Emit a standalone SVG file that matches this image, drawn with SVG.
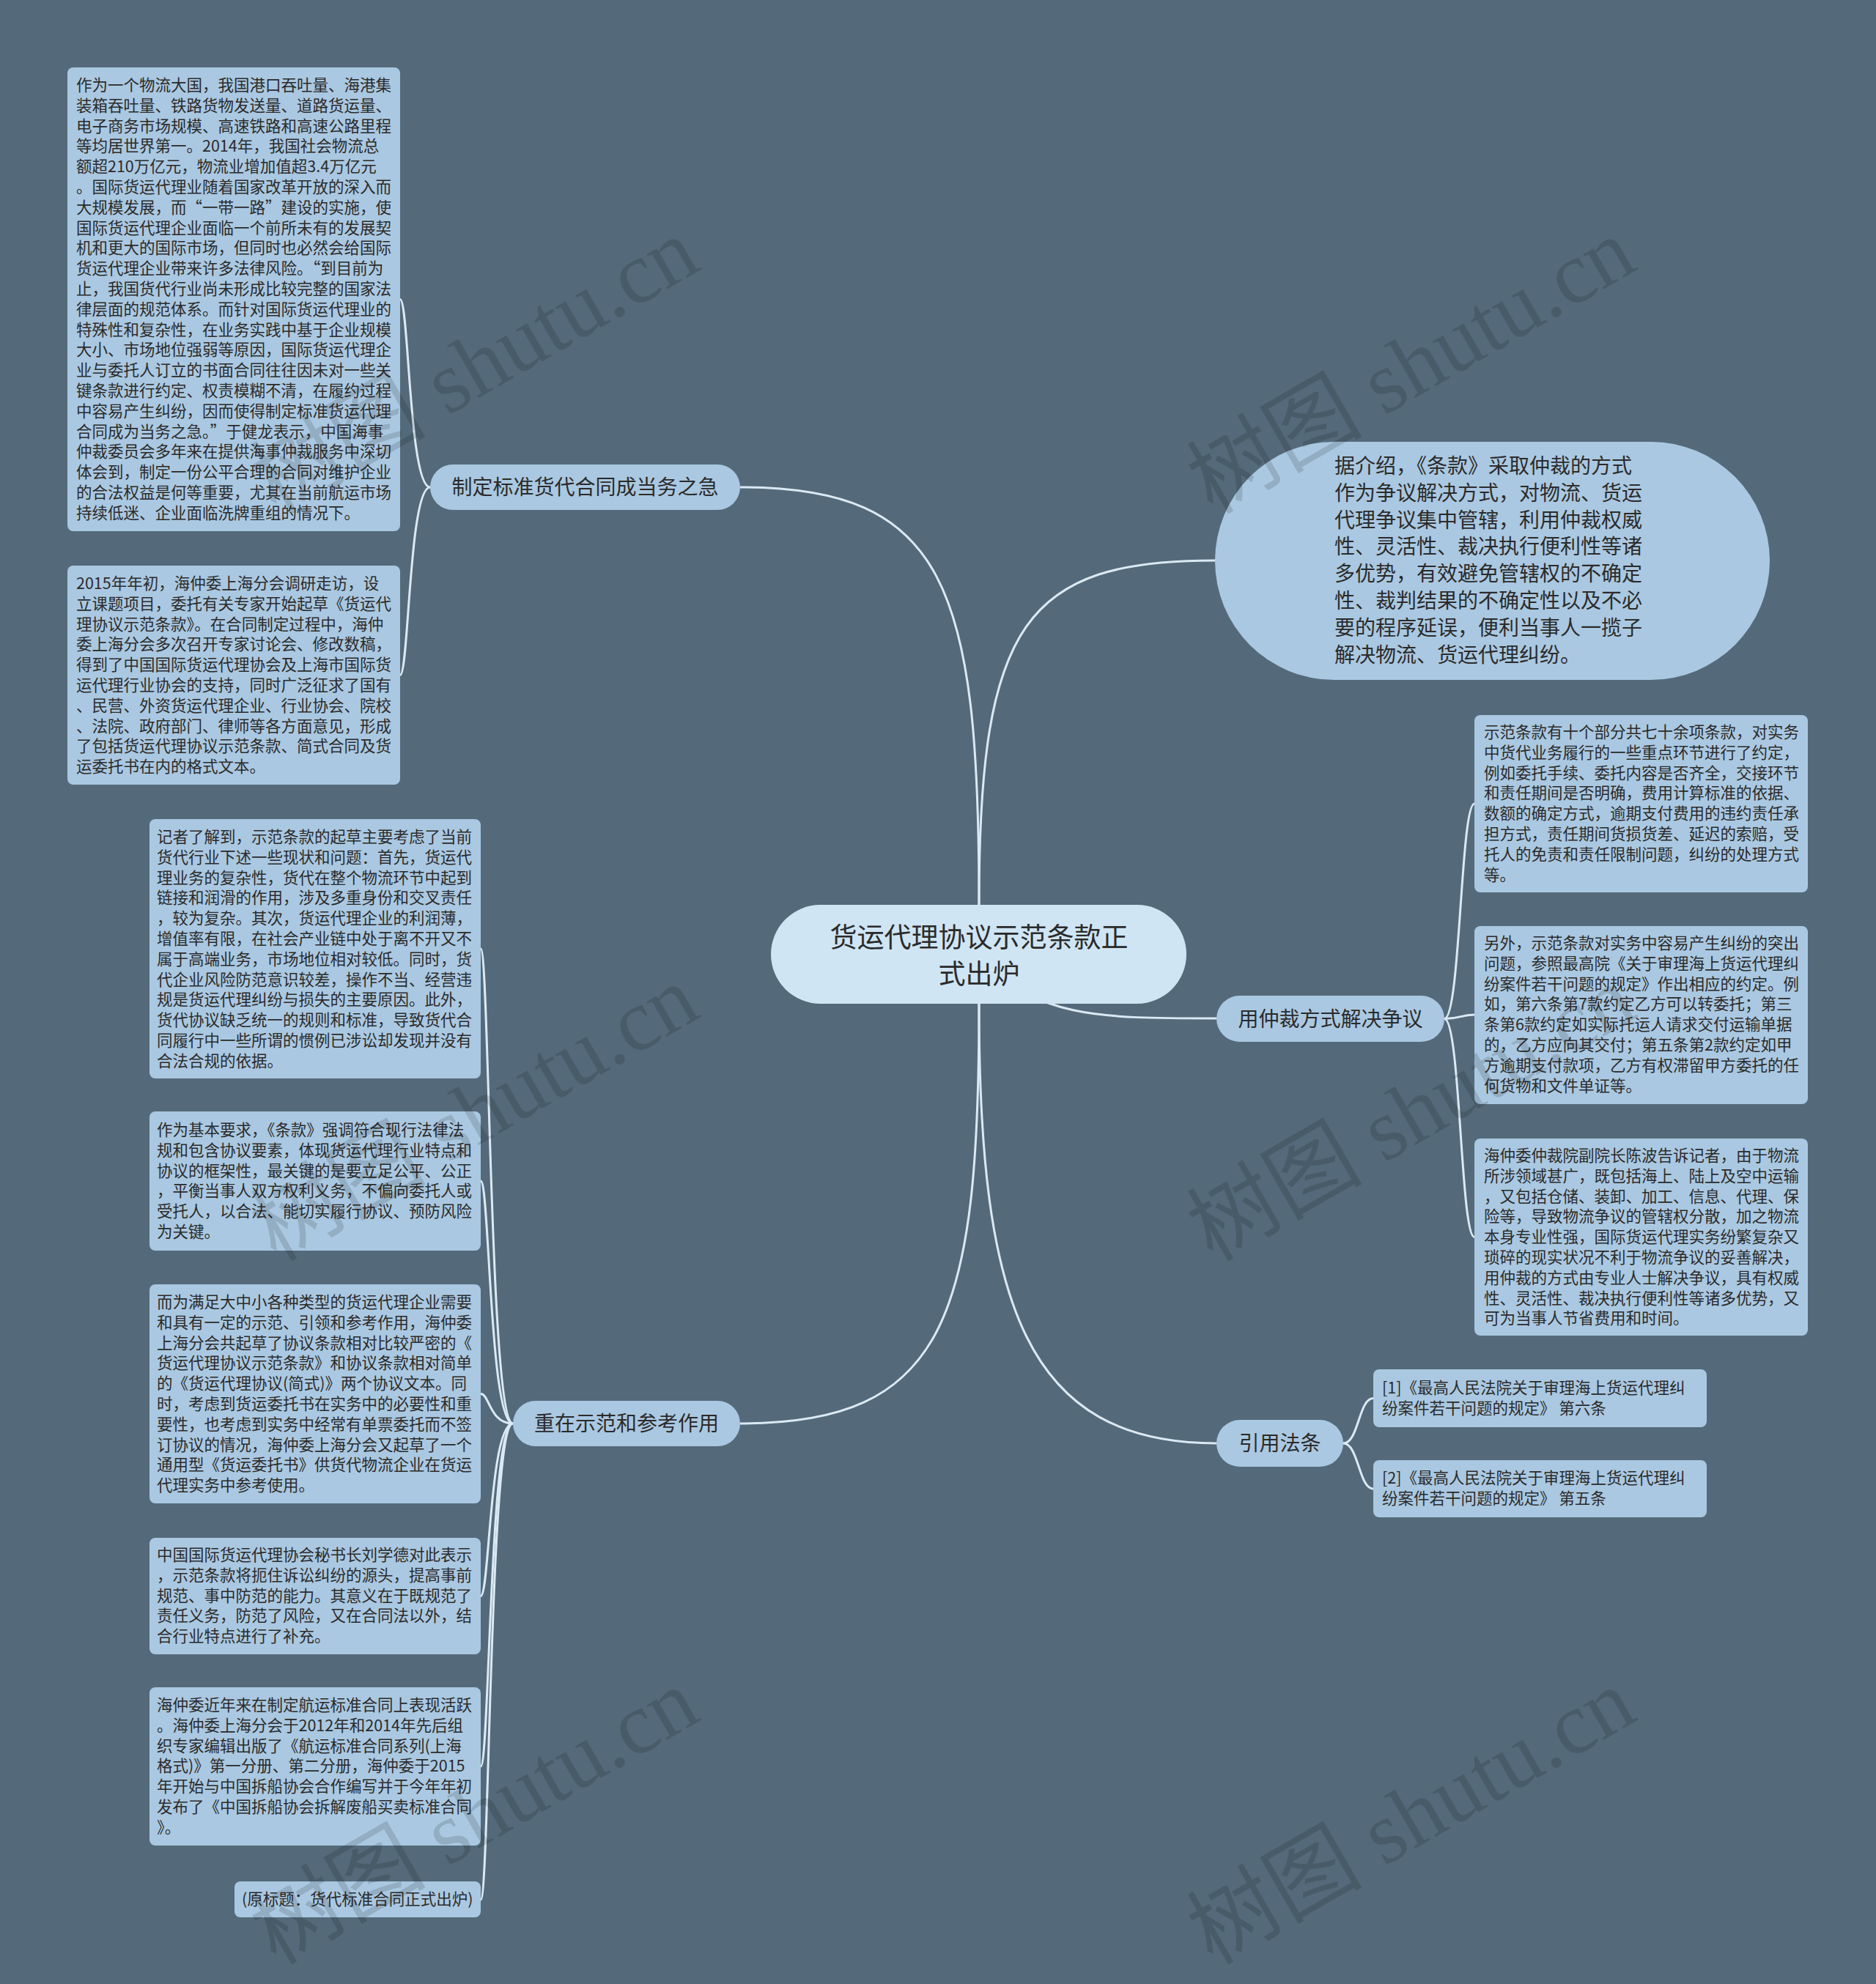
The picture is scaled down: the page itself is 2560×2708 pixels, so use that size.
<svg xmlns="http://www.w3.org/2000/svg" width="2560" height="2708" viewBox="0 0 2560 2708">
<style>
.box{fill:#aac8e1}
.t{font-family:"Noto Sans CJK SC","Liberation Sans",sans-serif;font-size:21.5px;fill:#2b2b2b}
.bt{font-family:"Noto Sans CJK SC","Liberation Sans",sans-serif;font-size:28px;fill:#2b2b2b;text-anchor:middle}
.ct{font-family:"Noto Sans CJK SC","Liberation Sans",sans-serif;font-size:37px;fill:#2b2b2b;text-anchor:middle}
.bub{font-family:"Noto Sans CJK SC","Liberation Sans",sans-serif;font-size:28px;fill:#2b2b2b}
.link{fill:none;stroke:#dbe9f4;stroke-width:3}
.wm{font-family:"Liberation Serif","Noto Sans CJK SC",serif;font-size:120px;fill:#000;opacity:0.13;text-anchor:middle}
</style>
<rect x="0" y="0" width="2560" height="2708" fill="#546a7a"/>

<g id="connectors">
<path class="link" d="M1336,1235 C1336,800 1290,665 1010,665"/>
<path class="link" d="M1336,1235 C1336,850 1400,765 1658,765"/>
<path class="link" d="M1336,1302 C1410,1390 1500,1390 1660,1390"/>
<path class="link" d="M1336,1370 C1336,1800 1290,1943 1010,1943"/>
<path class="link" d="M1336,1370 C1336,1780 1400,1970 1660,1970"/>
<path class="link" d="M587,665 C558,665 558,408.5 546,408.5"/>
<path class="link" d="M587,665 C558,665 558,921.5 546,921.5"/>
<path class="link" d="M700,1943 C668,1943 668,1295 656,1295"/>
<path class="link" d="M700,1943 C668,1943 668,1612 656,1612"/>
<path class="link" d="M700,1943 C668,1943 668,1902.5 656,1902.5"/>
<path class="link" d="M700,1943 C668,1943 668,2178.5 656,2178.5"/>
<path class="link" d="M700,1943 C668,1943 668,2411 656,2411"/>
<path class="link" d="M700,1943 C668,1943 668,2593 656,2593"/>
<path class="link" d="M1971,1390.5 C1993,1390.5 1993,1097 2012,1097"/>
<path class="link" d="M1971,1390.5 C1993,1390.5 1993,1385 2012,1385"/>
<path class="link" d="M1971,1390.5 C1993,1390.5 1993,1688.5 2012,1688.5"/>
<path class="link" d="M1833,1970 C1854,1970 1854,1908.5 1874,1908.5"/>
<path class="link" d="M1833,1970 C1854,1970 1854,2032 1874,2032"/>
</g>

<g id="center">
<rect x="1052" y="1235" width="567" height="135" rx="67.5" fill="#cfe5f4"/>
<text class="ct" x="1336" y="1293">货运代理协议示范条款正<tspan x="1336" dy="50">式出炉</tspan></text>
</g>

<g id="b1">
<rect class="box" x="587" y="634" width="423" height="62" rx="31"/>
<text class="bt" x="798.5" y="675">制定标准货代合同成当务之急</text>
</g>
<g id="b2">
<rect class="box" x="700" y="1912" width="310" height="62" rx="31"/>
<text class="bt" x="855" y="1953">重在示范和参考作用</text>
</g>
<g id="b3">
<rect class="box" x="1660" y="1359" width="311" height="63" rx="31.5"/>
<text class="bt" x="1815.5" y="1400.5">用仲裁方式解决争议</text>
</g>
<g id="b4">
<rect class="box" x="1660" y="1938" width="173" height="64" rx="32"/>
<text class="bt" x="1746.5" y="1980">引用法条</text>
</g>

<g id="bubble">
<rect class="box" x="1658" y="603" width="757" height="325" rx="162.5"/>
<text class="bub" x="1821" y="646">据介绍，《条款》采取仲裁的方式<tspan x="1821" dy="36.8">作为争议解决方式，对物流、货运</tspan><tspan x="1821" dy="36.8">代理争议集中管辖，利用仲裁权威</tspan><tspan x="1821" dy="36.8">性、灵活性、裁决执行便利性等诸</tspan><tspan x="1821" dy="36.8">多优势，有效避免管辖权的不确定</tspan><tspan x="1821" dy="36.8">性、裁判结果的不确定性以及不必</tspan><tspan x="1821" dy="36.8">要的程序延误，便利当事人一揽子</tspan><tspan x="1821" dy="36.8">解决物流、货运代理纠纷。</tspan></text>
</g>

<g id="box1">
<rect class="box" x="92" y="92" width="454" height="633" rx="8"/>
<text class="t" x="104" y="124">作为一个物流大国，我国港口吞吐量、海港集<tspan x="104" dy="27.8">装箱吞吐量、铁路货物发送量、道路货运量、</tspan><tspan x="104" dy="27.8">电子商务市场规模、高速铁路和高速公路里程</tspan><tspan x="104" dy="27.8">等均居世界第一。2014年，我国社会物流总</tspan><tspan x="104" dy="27.8">额超210万亿元，物流业增加值超3.4万亿元</tspan><tspan x="104" dy="27.8">。国际货运代理业随着国家改革开放的深入而</tspan><tspan x="104" dy="27.8">大规模发展，而“一带一路”建设的实施，使</tspan><tspan x="104" dy="27.8">国际货运代理企业面临一个前所未有的发展契</tspan><tspan x="104" dy="27.8">机和更大的国际市场，但同时也必然会给国际</tspan><tspan x="104" dy="27.8">货运代理企业带来许多法律风险。“到目前为</tspan><tspan x="104" dy="27.8">止，我国货代行业尚未形成比较完整的国家法</tspan><tspan x="104" dy="27.8">律层面的规范体系。而针对国际货运代理业的</tspan><tspan x="104" dy="27.8">特殊性和复杂性，在业务实践中基于企业规模</tspan><tspan x="104" dy="27.8">大小、市场地位强弱等原因，国际货运代理企</tspan><tspan x="104" dy="27.8">业与委托人订立的书面合同往往因未对一些关</tspan><tspan x="104" dy="27.8">键条款进行约定、权责模糊不清，在履约过程</tspan><tspan x="104" dy="27.8">中容易产生纠纷，因而使得制定标准货运代理</tspan><tspan x="104" dy="27.8">合同成为当务之急。”于健龙表示，中国海事</tspan><tspan x="104" dy="27.8">仲裁委员会多年来在提供海事仲裁服务中深切</tspan><tspan x="104" dy="27.8">体会到，制定一份公平合理的合同对维护企业</tspan><tspan x="104" dy="27.8">的合法权益是何等重要，尤其在当前航运市场</tspan><tspan x="104" dy="27.8">持续低迷、企业面临洗牌重组的情况下。</tspan></text>
</g>

<g id="box2">
<rect class="box" x="92" y="772" width="454" height="299" rx="8"/>
<text class="t" x="104" y="804">2015年年初，海仲委上海分会调研走访，设<tspan x="104" dy="27.8">立课题项目，委托有关专家开始起草《货运代</tspan><tspan x="104" dy="27.8">理协议示范条款》。在合同制定过程中，海仲</tspan><tspan x="104" dy="27.8">委上海分会多次召开专家讨论会、修改数稿，</tspan><tspan x="104" dy="27.8">得到了中国国际货运代理协会及上海市国际货</tspan><tspan x="104" dy="27.8">运代理行业协会的支持，同时广泛征求了国有</tspan><tspan x="104" dy="27.8">、民营、外资货运代理企业、行业协会、院校</tspan><tspan x="104" dy="27.8">、法院、政府部门、律师等各方面意见，形成</tspan><tspan x="104" dy="27.8">了包括货运代理协议示范条款、简式合同及货</tspan><tspan x="104" dy="27.8">运委托书在内的格式文本。</tspan></text>
</g>

<g id="box3">
<rect class="box" x="204" y="1118" width="452" height="354" rx="8"/>
<text class="t" x="214" y="1150">记者了解到，示范条款的起草主要考虑了当前<tspan x="214" dy="27.8">货代行业下述一些现状和问题：首先，货运代</tspan><tspan x="214" dy="27.8">理业务的复杂性，货代在整个物流环节中起到</tspan><tspan x="214" dy="27.8">链接和润滑的作用，涉及多重身份和交叉责任</tspan><tspan x="214" dy="27.8">，较为复杂。其次，货运代理企业的利润薄，</tspan><tspan x="214" dy="27.8">增值率有限，在社会产业链中处于离不开又不</tspan><tspan x="214" dy="27.8">属于高端业务，市场地位相对较低。同时，货</tspan><tspan x="214" dy="27.8">代企业风险防范意识较差，操作不当、经营违</tspan><tspan x="214" dy="27.8">规是货运代理纠纷与损失的主要原因。此外，</tspan><tspan x="214" dy="27.8">货代协议缺乏统一的规则和标准，导致货代合</tspan><tspan x="214" dy="27.8">同履行中一些所谓的惯例已涉讼却发现并没有</tspan><tspan x="214" dy="27.8">合法合规的依据。</tspan></text>
</g>

<g id="box4">
<rect class="box" x="204" y="1517" width="452" height="190" rx="8"/>
<text class="t" x="214" y="1550">作为基本要求，《条款》强调符合现行法律法<tspan x="214" dy="27.8">规和包含协议要素，体现货运代理行业特点和</tspan><tspan x="214" dy="27.8">协议的框架性，最关键的是要立足公平、公正</tspan><tspan x="214" dy="27.8">，平衡当事人双方权利义务，不偏向委托人或</tspan><tspan x="214" dy="27.8">受托人，以合法、能切实履行协议、预防风险</tspan><tspan x="214" dy="27.8">为关键。</tspan></text>
</g>

<g id="box5">
<rect class="box" x="204" y="1753" width="452" height="299" rx="8"/>
<text class="t" x="214" y="1785">而为满足大中小各种类型的货运代理企业需要<tspan x="214" dy="27.8">和具有一定的示范、引领和参考作用，海仲委</tspan><tspan x="214" dy="27.8">上海分会共起草了协议条款相对比较严密的《</tspan><tspan x="214" dy="27.8">货运代理协议示范条款》和协议条款相对简单</tspan><tspan x="214" dy="27.8">的《货运代理协议(简式)》两个协议文本。同</tspan><tspan x="214" dy="27.8">时，考虑到货运委托书在实务中的必要性和重</tspan><tspan x="214" dy="27.8">要性，也考虑到实务中经常有单票委托而不签</tspan><tspan x="214" dy="27.8">订协议的情况，海仲委上海分会又起草了一个</tspan><tspan x="214" dy="27.8">通用型《货运委托书》供货代物流企业在货运</tspan><tspan x="214" dy="27.8">代理实务中参考使用。</tspan></text>
</g>

<g id="box6">
<rect class="box" x="204" y="2099" width="452" height="159" rx="8"/>
<text class="t" x="214" y="2130">中国国际货运代理协会秘书长刘学德对此表示<tspan x="214" dy="27.8">，示范条款将扼住诉讼纠纷的源头，提高事前</tspan><tspan x="214" dy="27.8">规范、事中防范的能力。其意义在于既规范了</tspan><tspan x="214" dy="27.8">责任义务，防范了风险，又在合同法以外，结</tspan><tspan x="214" dy="27.8">合行业特点进行了补充。</tspan></text>
</g>

<g id="box7">
<rect class="box" x="204" y="2303" width="452" height="216" rx="8"/>
<text class="t" x="214" y="2335">海仲委近年来在制定航运标准合同上表现活跃<tspan x="214" dy="27.8">。海仲委上海分会于2012年和2014年先后组</tspan><tspan x="214" dy="27.8">织专家编辑出版了《航运标准合同系列(上海</tspan><tspan x="214" dy="27.8">格式)》第一分册、第二分册，海仲委于2015</tspan><tspan x="214" dy="27.8">年开始与中国拆船协会合作编写并于今年年初</tspan><tspan x="214" dy="27.8">发布了《中国拆船协会拆解废船买卖标准合同</tspan><tspan x="214" dy="27.8">》。</tspan></text>
</g>

<g id="box8">
<rect class="box" x="320" y="2568" width="336" height="49" rx="8"/>
<text class="t" x="330" y="2600">(原标题：货代标准合同正式出炉)</text>
</g>

<g id="r1">
<rect class="box" x="2012" y="976" width="455" height="242" rx="8"/>
<text class="t" x="2025" y="1007">示范条款有十个部分共七十余项条款，对实务<tspan x="2025" dy="27.8">中货代业务履行的一些重点环节进行了约定，</tspan><tspan x="2025" dy="27.8">例如委托手续、委托内容是否齐全，交接环节</tspan><tspan x="2025" dy="27.8">和责任期间是否明确，费用计算标准的依据、</tspan><tspan x="2025" dy="27.8">数额的确定方式，逾期支付费用的违约责任承</tspan><tspan x="2025" dy="27.8">担方式，责任期间货损货差、延迟的索赔，受</tspan><tspan x="2025" dy="27.8">托人的免责和责任限制问题，纠纷的处理方式</tspan><tspan x="2025" dy="27.8">等。</tspan></text>
</g>

<g id="r2">
<rect class="box" x="2012" y="1264" width="455" height="243" rx="8"/>
<text class="t" x="2025" y="1295">另外，示范条款对实务中容易产生纠纷的突出<tspan x="2025" dy="27.8">问题，参照最高院《关于审理海上货运代理纠</tspan><tspan x="2025" dy="27.8">纷案件若干问题的规定》作出相应的约定。例</tspan><tspan x="2025" dy="27.8">如，第六条第7款约定乙方可以转委托；第三</tspan><tspan x="2025" dy="27.8">条第6款约定如实际托运人请求交付运输单据</tspan><tspan x="2025" dy="27.8">的，乙方应向其交付；第五条第2款约定如甲</tspan><tspan x="2025" dy="27.8">方逾期支付款项，乙方有权滞留甲方委托的任</tspan><tspan x="2025" dy="27.8">何货物和文件单证等。</tspan></text>
</g>

<g id="r3">
<rect class="box" x="2012" y="1554" width="455" height="269" rx="8"/>
<text class="t" x="2025" y="1585">海仲委仲裁院副院长陈波告诉记者，由于物流<tspan x="2025" dy="27.8">所涉领域甚广，既包括海上、陆上及空中运输</tspan><tspan x="2025" dy="27.8">，又包括仓储、装卸、加工、信息、代理、保</tspan><tspan x="2025" dy="27.8">险等，导致物流争议的管辖权分散，加之物流</tspan><tspan x="2025" dy="27.8">本身专业性强，国际货运代理实务纷繁复杂又</tspan><tspan x="2025" dy="27.8">琐碎的现实状况不利于物流争议的妥善解决，</tspan><tspan x="2025" dy="27.8">用仲裁的方式由专业人士解决争议，具有权威</tspan><tspan x="2025" dy="27.8">性、灵活性、裁决执行便利性等诸多优势，又</tspan><tspan x="2025" dy="27.8">可为当事人节省费用和时间。</tspan></text>
</g>

<g id="c1">
<rect class="box" x="1874" y="1869" width="455" height="79" rx="8"/>
<text class="t" x="1886" y="1902">[1]《最高人民法院关于审理海上货运代理纠<tspan x="1886" dy="27.8">纷案件若干问题的规定》 第六条</tspan></text>
</g>
<g id="c2">
<rect class="box" x="1874" y="1993" width="455" height="78" rx="8"/>
<text class="t" x="1886" y="2025">[2]《最高人民法院关于审理海上货运代理纠<tspan x="1886" dy="27.8">纷案件若干问题的规定》 第五条</tspan></text>
</g>

<g id="watermarks">
<text class="wm" x="648" y="540" transform="rotate(-30 648 500)">树图 shutu.cn</text>
<text class="wm" x="1926" y="540" transform="rotate(-30 1926 500)">树图 shutu.cn</text>
<text class="wm" x="648" y="1560" transform="rotate(-30 648 1520)">树图 shutu.cn</text>
<text class="wm" x="1926" y="1560" transform="rotate(-30 1926 1520)">树图 shutu.cn</text>
<text class="wm" x="648" y="2520" transform="rotate(-30 648 2480)">树图 shutu.cn</text>
<text class="wm" x="1926" y="2520" transform="rotate(-30 1926 2480)">树图 shutu.cn</text>
</g>
</svg>
